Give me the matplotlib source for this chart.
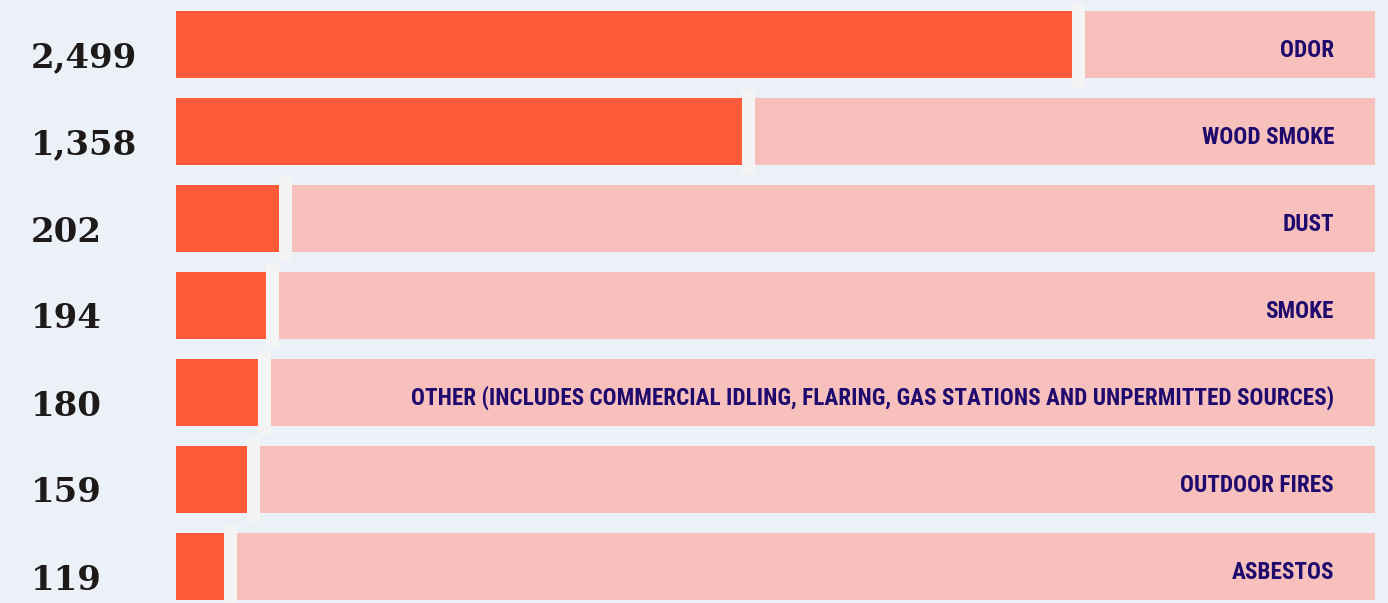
import matplotlib
matplotlib.use("Agg")
import matplotlib.pyplot as plt
from matplotlib import font_manager as fm
from matplotlib.transforms import blended_transform_factory

# ---- data ----
categories = ["ODOR", "WOOD SMOKE", "DUST", "SMOKE",
              "OTHER (INCLUDES COMMERCIAL IDLING, FLARING, GAS STATIONS AND UNPERMITTED SOURCES)",
              "OUTDOOR FIRES", "ASBESTOS"]
complaints = [2499, 1358, 202, 194, 180, 159, 119]
# filled share of each track (percent)
fill_pct = [74.7, 47.2, 8.6, 7.5, 6.8, 5.9, 4.0]

# ---- style ----
BG = "#ECF1F8"
ORANGE = "#FF5A3A"
PINK = "#F8C0BD"
SEP = "#F4F4F4"
NAVY = "#1F0A6E"
DARK = "#1E1A1A"

W, H = 1388, 603
fig = plt.figure(figsize=(W / 100, H / 100), dpi=100, facecolor=BG)

pitch = 87.0
first_center = 44.5
ax = fig.add_axes([176 / W, 0, 1199 / W, 1])
ax.set_facecolor("none")
ax.set_xlim(0, 100)
ax.set_ylim((H - first_center) / pitch, -first_center / pitch)
ax.axis("off")

ys = list(range(len(categories)))
bar_h = 67 / pitch
sep_h = 84 / pitch
sep_w = 13 / 1199 * 100

ax.barh(ys, [100] * len(ys), height=bar_h, color=PINK, zorder=1)
ax.barh(ys, fill_pct, height=bar_h, color=ORANGE, zorder=2)
ax.barh(ys, [sep_w] * len(ys), left=fill_pct, height=sep_h, color=SEP, zorder=3)

names = {f.name for f in fm.fontManager.ttflist}
lab_kw = None
for cand in ["Roboto Condensed", "Liberation Sans Narrow", "Open Sans Condensed",
             "DejaVu Sans Condensed"]:
    if cand in names:
        lab_kw = dict(family=cand, fontweight="bold")
        break
if lab_kw is None:
    lab_kw = dict(family="DejaVu Sans", fontweight="bold", fontstretch="condensed")

trans = blended_transform_factory(fig.transFigure, ax.transData)

num_fmt = [f"{v:,}" for v in complaints]
for y, s in zip(ys, num_fmt):
    ax.annotate(s, xy=(31 / W, y), xycoords=trans, xytext=(0, -23),
                textcoords="offset pixels", ha="left", va="baseline",
                fontsize=24.5, fontweight="heavy", family="DejaVu Serif",
                color=DARK, annotation_clip=False)

texts = []
for y, s in zip(ys, categories):
    t = ax.annotate(s, xy=(1334 / W, y), xycoords=trans, xytext=(0, -12.5),
                    textcoords="offset pixels", ha="right", va="baseline",
                    fontsize=18, color=NAVY, annotation_clip=False, **lab_kw)
    texts.append(t)

# fit the longest label width to the reference (~919 px)
fig.canvas.draw()
r = fig.canvas.get_renderer()
longest = max(texts, key=lambda t: t.get_window_extent(r).width)
w = longest.get_window_extent(r).width
fs = 18 * 919 / w
for t in texts:
    t.set_fontsize(fs)

fig.savefig("out.png", dpi=100, facecolor=BG)
